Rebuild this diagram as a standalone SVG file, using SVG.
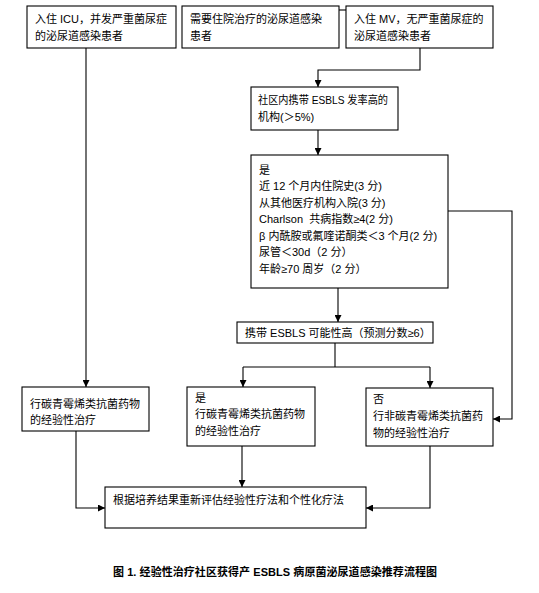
<svg xmlns="http://www.w3.org/2000/svg" width="539" height="593" viewBox="0 0 539 593">
<defs>
<marker id="ah" viewBox="0 0 7 7" refX="7" refY="3.5" markerWidth="7" markerHeight="7" markerUnits="userSpaceOnUse" orient="auto">
<path d="M0,0 L7,3.5 L0,7 z" fill="#000"/>
</marker>
<style>
.box{fill:#fff;stroke:#000;stroke-width:1.1}
.t{font-family:"Liberation Sans","Noto Sans CJK SC",sans-serif;font-size:11px;fill:#000}
.cap{font-family:"Liberation Sans","Noto Sans CJK SC",sans-serif;font-size:11px;font-weight:bold;fill:#000}
.c{fill:none;stroke:#000;stroke-width:1.1}
.a{fill:none;stroke:#000;stroke-width:1.1;marker-end:url(#ah)}
</style>
</defs>
<rect width="539" height="593" fill="#fff"/>
<g id="connectors">
<line class="c" x1="339" y1="10" x2="346" y2="10"/>
<polyline class="a" points="420,48 420,70 318,70 318,87"/>
<line class="a" x1="86" y1="48" x2="86" y2="387"/>
<line class="a" x1="318" y1="130" x2="318" y2="155"/>
<polyline class="a" points="448,211 512,211 512,419 493,419"/>
<line class="a" x1="338" y1="288" x2="338" y2="322"/>
<line class="c" x1="335" y1="343" x2="335" y2="367"/>
<polyline class="a" points="243,367 243,387"/>
<line class="c" x1="243" y1="367" x2="430" y2="367"/>
<line class="a" x1="430" y1="367" x2="430" y2="388"/>
<polyline class="a" points="76,431 76,508 105,508"/>
<line class="a" x1="242" y1="446" x2="242" y2="487"/>
<polyline class="a" points="430,446 430,508 366,508"/>
</g>
<g id="n1"><rect class="box" x="27" y="6" width="149" height="42"/>
<text class="t" x="35" y="23">入住 ICU，并发严重菌尿症</text>
<text class="t" x="35" y="40">的泌尿道感染患者</text></g>
<g id="n2"><rect class="box" x="182" y="6" width="157" height="42"/>
<text class="t" x="190" y="23">需要住院治疗的泌尿道感染</text>
<text class="t" x="190" y="40">患者</text></g>
<g id="n3"><rect class="box" x="346" y="6" width="147" height="42"/>
<text class="t" x="354" y="23">入住 MV，无严重菌尿症的</text>
<text class="t" x="354" y="40">泌尿道感染患者</text></g>
<g id="n4"><rect class="box" x="251" y="87" width="147" height="43"/>
<text class="t" x="258" y="104" textLength="130" lengthAdjust="spacingAndGlyphs">社区内携带 ESBLS 发率高的</text>
<text class="t" x="258" y="121">机构(＞5%)</text></g>
<g id="n5"><rect class="box" x="251" y="155" width="197" height="133"/>
<text class="t" x="259" y="174">是</text>
<text class="t" x="259" y="190">近 12 个月内住院史(3 分)</text>
<text class="t" x="259" y="207">从其他医疗机构入院(3 分)</text>
<text class="t" x="259" y="223">Charlson&#160; 共病指数≥4(2 分)</text>
<text class="t" x="259" y="240">β 内酰胺或氟喹诺酮类＜3 个月(2 分)</text>
<text class="t" x="259" y="256">尿管＜30d（2 分）</text>
<text class="t" x="259" y="273">年龄≥70 周岁（2 分）</text></g>
<g id="n6"><rect class="box" x="237" y="322" width="196" height="21"/>
<text class="t" x="245" y="337">携带 ESBLS 可能性高（预测分数≥6）</text></g>
<g id="n7"><rect class="box" x="22" y="387" width="127" height="44"/>
<text class="t" x="30" y="408">行碳青霉烯类抗菌药物</text>
<text class="t" x="30" y="424">的经验性治疗</text></g>
<g id="n8"><rect class="box" x="187" y="387" width="128" height="59"/>
<text class="t" x="195" y="402">是</text>
<text class="t" x="195" y="418">行碳青霉烯类抗菌药物</text>
<text class="t" x="195" y="435">的经验性治疗</text></g>
<g id="n9"><rect class="box" x="366" y="388" width="127" height="58"/>
<text class="t" x="373" y="403">否</text>
<text class="t" x="373" y="420">行非碳青霉烯类抗菌药</text>
<text class="t" x="373" y="437">物的经验性治疗</text></g>
<g id="n10"><rect class="box" x="105" y="487" width="261" height="41"/>
<text class="t" x="113" y="504">根据培养结果重新评估经验性疗法和个性化疗法</text></g>
<text class="cap" x="113" y="576" textLength="324" lengthAdjust="spacing">图 1. 经验性治疗社区获得产 ESBLS 病原菌泌尿道感染推荐流程图</text>
</svg>
